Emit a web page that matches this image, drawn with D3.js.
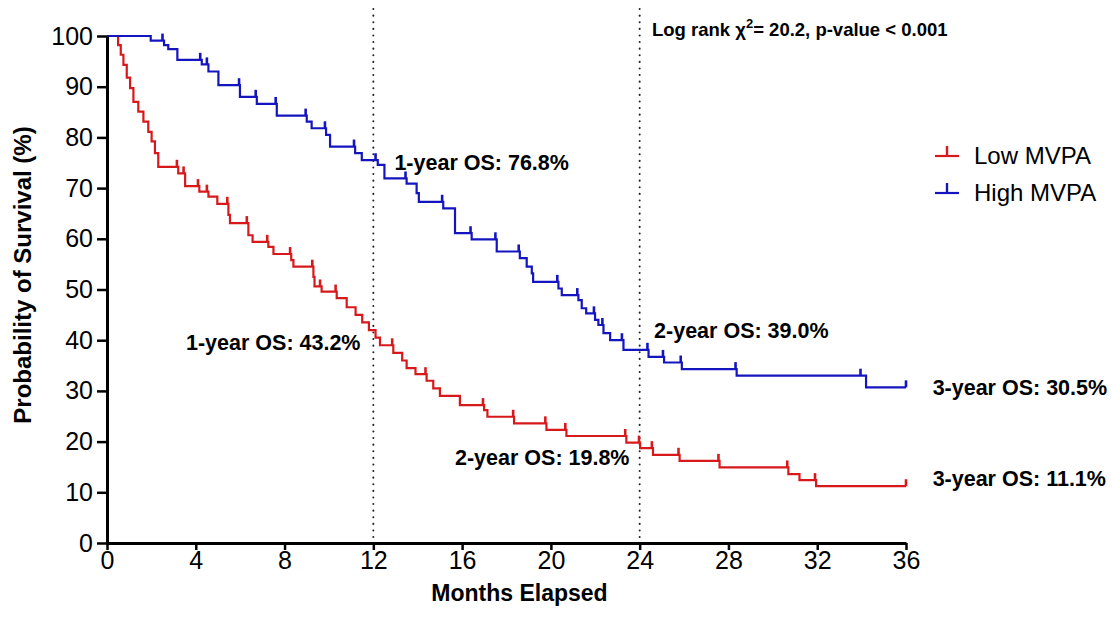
<!DOCTYPE html>
<html>
<head>
<meta charset="utf-8">
<script src="https://cdn.jsdelivr.net/npm/d3@7"></script>
<style>
  body { margin: 0; background: #fff; }
  svg { font-family: "Liberation Sans", Arial, sans-serif; }
</style>
</head>
<body>
<div id="chart"></div>
<script>
// Kaplan-Meier step points (months, % surviving)
const lowTimes = [0, 0.5, 0.62, 0.74, 0.89, 1.04, 1.19, 1.41, 1.64, 1.86, 2.01, 2.16, 2.31, 3.21, 3.52, 4.16, 4.57, 4.97, 5.47, 5.54, 6.37, 6.56, 7.27, 7.5, 8.3, 8.4, 9.3, 9.35, 9.67, 10.35, 10.8, 11.2, 11.5, 11.8, 12.1, 12.3, 12.9, 13.3, 13.5, 13.9, 14.4, 14.7, 15.0, 15.9, 16.99, 17.14, 18.34, 19.8, 20.7, 23.4, 24.02, 24.6, 25.8, 27.6, 30.7, 31.2, 31.95, 36];
const lowSurv = [100, 98.2, 96.3, 94.3, 91.8, 89.7, 87.0, 85.1, 83.1, 81.1, 79.2, 76.9, 74.2, 72.9, 70.4, 69.3, 68.3, 66.9, 64.7, 63.1, 60.7, 59.4, 58.4, 57.0, 55.8, 54.5, 52.5, 50.6, 49.6, 48.3, 46.5, 45.0, 43.5, 42.0, 40.5, 39.0, 37.5, 36.0, 34.5, 33.3, 32.0, 30.5, 29.0, 27.2, 26.2, 24.9, 23.6, 22.3, 21.1, 19.8, 18.7, 17.4, 16.2, 14.9, 13.6, 12.4, 11.2, 11.2];
const lowCensor = [3.15, 3.45, 4.1, 4.5, 5.42, 6.3, 7.22, 8.25, 9.25, 9.6, 10.3, 12.85, 14.35, 16.94, 18.3, 19.75, 20.65, 23.35, 23.97, 24.55, 25.75, 27.55, 30.65, 31.9, 36];

const highTimes = [0, 1.97, 2.57, 2.76, 3.17, 4.27, 4.57, 5.02, 5.99, 6.75, 7.65, 9.0, 9.22, 9.87, 10.05, 11.18, 11.48, 12.2, 12.5, 13.5, 13.95, 14.05, 15.15, 15.68, 16.43, 17.56, 18.6, 18.91, 19.14, 19.2, 20.34, 20.49, 21.24, 21.39, 21.59, 21.99, 22.14, 22.37, 22.67, 23.27, 24.4, 25.1, 25.9, 28.37, 34.2, 36];
const highSurv = [100, 99.1, 98.2, 97.4, 95.3, 94.4, 93.0, 90.3, 88.0, 86.6, 84.3, 83.1, 81.8, 80.5, 78.2, 76.9, 75.5, 74.6, 71.9, 70.9, 69.0, 67.3, 66.0, 61.1, 59.9, 57.5, 56.2, 54.5, 53.2, 51.5, 50.2, 48.9, 47.9, 46.3, 45.3, 44.0, 43.0, 41.4, 40.0, 38.1, 36.7, 35.6, 34.3, 33.0, 30.7, 30.7];
const highCensor = [2.5, 4.2, 4.5, 5.95, 6.7, 7.6, 8.95, 9.82, 11.13, 12.1, 13.45, 15.1, 16.38, 17.5, 18.55, 20.29, 21.19, 21.94, 22.32, 23.2, 24.35, 25.05, 25.85, 28.32, 33.95, 36];

const xTicks = [0, 4, 8, 12, 16, 20, 24, 28, 32, 36];
const yTicks = [0, 10, 20, 30, 40, 50, 60, 70, 80, 90, 100];
const markerMonths = [12, 24];

const groups = [
  { name: 'Low MVPA', times: lowTimes, surv: lowSurv, censor: lowCensor, color: '#d7191c' },
  { name: 'High MVPA', times: highTimes, surv: highSurv, censor: highCensor, color: '#1515c0' }
];

const notes = [
  { t: 12.95, s: 75.0, text: '1-year OS: 76.8%' },
  { t: 3.56, s: 39.6, text: '1-year OS: 43.2%' },
  { t: 24.65, s: 42.0, text: '2-year OS: 39.0%' },
  { t: 15.68, s: 16.8, text: '2-year OS: 19.8%' },
  { t: 37.2, s: 30.6, text: '3-year OS: 30.5%' },
  { t: 37.2, s: 12.8, text: '3-year OS: 11.1%' }
];

const W = 1112, H = 629;
const margin = { top: 36, right: 206, bottom: 86, left: 107 };
const width = W - margin.left - margin.right;
const height = H - margin.top - margin.bottom;

const svg = d3.select('#chart').append('svg')
  .attr('width', W).attr('height', H);
const g = svg.append('g')
  .attr('transform', `translate(${margin.left},${margin.top})`);

const x = d3.scaleLinear().domain([0, 36]).range([0, width]);
const y = d3.scaleLinear().domain([0, 100]).range([height, 0]);

// dotted reference lines at 1 and 2 years
g.selectAll('.ref')
  .data(markerMonths)
  .join('line')
  .attr('class', 'ref')
  .attr('x1', d => x(d)).attr('x2', d => x(d))
  .attr('y1', -27).attr('y2', height)
  .attr('stroke', '#222')
  .attr('stroke-width', 2)
  .attr('stroke-dasharray', '0.1 6.5')
  .attr('stroke-linecap', 'round');

// curves
const line = d3.line()
  .x(d => x(d[0]))
  .y(d => y(d[1]))
  .curve(d3.curveStepAfter);

function valueAt(grp, t) {
  let v = grp.surv[0];
  for (let i = 0; i < grp.times.length; i++) {
    if (grp.times[i] <= t) v = grp.surv[i];
  }
  return v;
}

groups.forEach(grp => {
  const pts = grp.times.map((t, i) => [t, grp.surv[i]]);
  g.append('path')
    .datum(pts)
    .attr('fill', 'none')
    .attr('stroke', grp.color)
    .attr('stroke-width', 2.2)
    .attr('d', line);

  g.selectAll(null)
    .data(grp.censor)
    .join('line')
    .attr('x1', d => x(d)).attr('x2', d => x(d))
    .attr('y1', d => y(valueAt(grp, d)))
    .attr('y2', d => y(valueAt(grp, d)) - 7)
    .attr('stroke', grp.color)
    .attr('stroke-width', 2.6);
});

// axes
const xAxis = g.append('g')
  .attr('transform', `translate(0,${height})`)
  .call(d3.axisBottom(x).tickValues(xTicks).tickSize(7).tickSizeOuter(0));
const yAxis = g.append('g')
  .call(d3.axisLeft(y).tickValues(yTicks).tickSize(10).tickSizeOuter(0));

[xAxis, yAxis].forEach(ax => {
  ax.select('.domain').attr('stroke', '#000').attr('stroke-width', 3);
  ax.selectAll('.tick line').attr('stroke', '#000').attr('stroke-width', 2.5);
  ax.selectAll('.tick text')
    .attr('fill', '#000')
    .style('font-family', '"Liberation Sans", Arial, sans-serif')
    .style('font-size', '25px');
});
xAxis.selectAll('.tick text').attr('dy', '0.8em').attr('y', 6);
yAxis.selectAll('.tick text').attr('x', -14);

// axis titles
svg.append('text')
  .attr('x', margin.left + width / 2 + 13)
  .attr('y', 601)
  .attr('text-anchor', 'middle')
  .style('font-size', '23px')
  .style('font-weight', 'bold')
  .text('Months Elapsed');

svg.append('text')
  .attr('transform', `translate(31,${margin.top + 239}) rotate(-90)`)
  .attr('text-anchor', 'middle')
  .style('font-size', '24px')
  .style('font-weight', 'bold')
  .text('Probability of Survival (%)');

// annotations
g.selectAll('.note')
  .data(notes)
  .join('text')
  .attr('class', 'note')
  .attr('x', d => x(d.t))
  .attr('y', d => y(d.s))
  .attr('dy', '0.35em')
  .style('font-size', '21.5px')
  .style('font-weight', 'bold')
  .text(d => d.text);

const lr = svg.append('text')
  .attr('x', 652).attr('y', 36)
  .style('font-size', '18.5px')
  .style('font-weight', 'bold');
lr.append('tspan').text('Log rank \u03C7');
lr.append('tspan').attr('dy', -8).style('font-size', '13px').text('2');
lr.append('tspan').attr('dy', 8).text('= 20.2, p-value < 0.001');

// legend
const legend = svg.append('g').attr('transform', 'translate(935,156)');
groups.forEach((grp, i) => {
  const row = legend.append('g').attr('transform', `translate(0,${i * 37})`);
  row.append('line')
    .attr('x1', 0).attr('x2', 24).attr('y1', 0).attr('y2', 0)
    .attr('stroke', grp.color).attr('stroke-width', 2.2);
  row.append('line')
    .attr('x1', 12).attr('x2', 12).attr('y1', 0).attr('y2', -10)
    .attr('stroke', grp.color).attr('stroke-width', 2.4);
  row.append('text')
    .attr('x', 39).attr('y', 0).attr('dy', '0.35em')
    .style('font-size', '24px')
    .text(grp.name);
});
</script>
</body>
</html>
